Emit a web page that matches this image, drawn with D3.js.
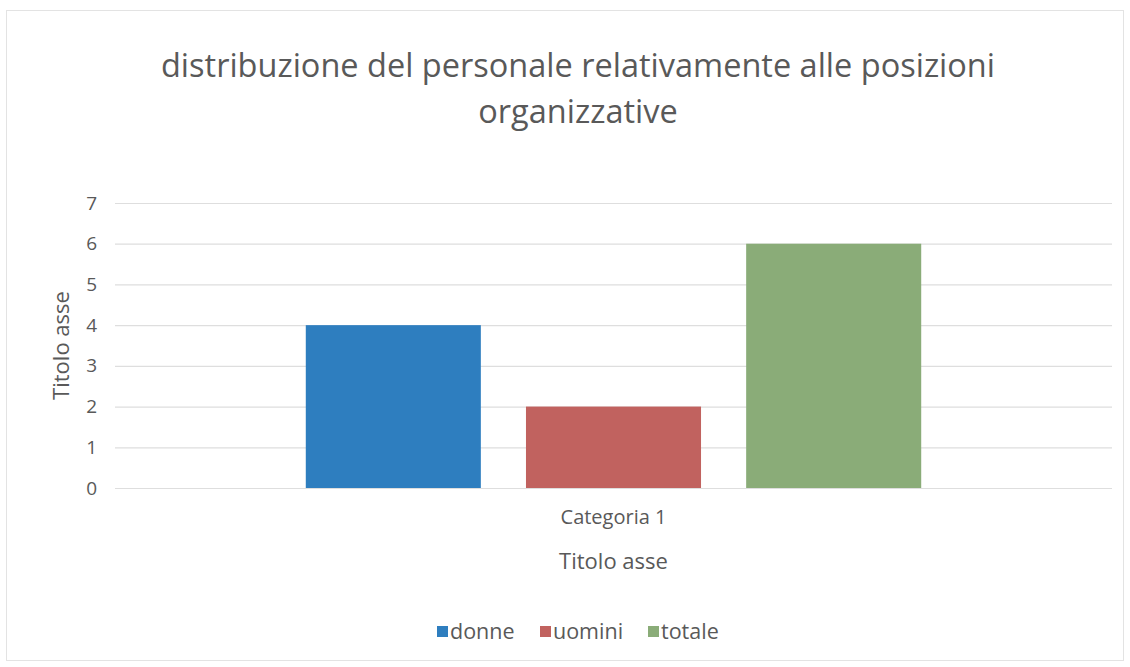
<!DOCTYPE html>
<html>
<head>
<meta charset="utf-8">
<script src="https://d3js.org/d3.v7.min.js"></script>
<style>
  body { margin: 0; background: #fff; }
  text { font-family: "Open Sans", "Noto Sans", sans-serif; fill: #595959; }
</style>
</head>
<body>
<div id="chart"></div>
<script>
// chart values
var categories = ["Categoria 1"];
var seriesNames = ["donne", "uomini", "totale"];
var seriesValues = [4, 2, 6];
var seriesColors = ["#2e7ebf", "#c1625f", "#8aac78"];
var yTicks = [0, 1, 2, 3, 4, 5, 6, 7];
var titleLines = ["distribuzione del personale relativamente alle posizioni", "organizzative"];
var axisTitle = "Titolo asse";

var W = 1130, H = 667;
var plot = {left: 115, right: 1112, top: 203, bottom: 488};

var svg = d3.select("#chart")
            .append("svg")
            .attr("width", W)
            .attr("height", H);

// outer chart frame, like the excel chart area
svg.append("rect")
   .attr("x", 6.5)
   .attr("y", 10.5)
   .attr("width", 1117)
   .attr("height", 650)
   .attr("fill", "#fff")
   .attr("stroke", "#e3e3e3");

var xOuter = d3.scaleBand()
               .domain(categories)
               .range([plot.left, plot.right])
               .paddingInner(0)
               .paddingOuter(0.31);

var xInner = d3.scaleBand()
               .domain(seriesNames)
               .range([0, xOuter.bandwidth()])
               .paddingInner(0.205)
               .paddingOuter(0);

var yScale = d3.scaleLinear()
               .domain([0, 7])
               .range([plot.bottom, plot.top]);

// gridlines
var yAxis = d3.axisLeft(yScale)
              .tickValues(yTicks)
              .tickSize(-(plot.right - plot.left))
              .tickPadding(18)
              .tickFormat(d3.format("d"));

var gy = svg.append("g")
            .attr("class", "y axis")
            .attr("transform", "translate(" + plot.left + ",0)")
            .call(yAxis);
gy.select(".domain").remove();
gy.selectAll(".tick line").attr("stroke", "#dedede").attr("stroke-width", 1.2);
gy.selectAll(".tick text")
  .style("font-size", "19px")
  .style("font-family", "'Open Sans', sans-serif")
  .attr("fill", "#595959");

// bars
svg.append("g")
   .selectAll("rect")
   .data(seriesNames.map(function(n, i) { return {name: n, value: seriesValues[i], color: seriesColors[i]}; }))
   .enter().append("rect")
   .attr("x", function(d) { return xOuter(categories[0]) + xInner(d.name); })
   .attr("y", function(d) { return yScale(d.value); })
   .attr("width", xInner.bandwidth())
   .attr("height", function(d) { return yScale(0) - yScale(d.value); })
   .attr("fill", function(d) { return d.color; });

// category label
var xAxis = d3.axisBottom(xOuter).tickSize(0).tickPadding(22);
var gx = svg.append("g")
            .attr("transform", "translate(0," + plot.bottom + ")")
            .call(xAxis);
gx.select(".domain").remove();
gx.selectAll(".tick text")
  .style("font-size", "20px")
  .style("font-family", "'Open Sans', sans-serif")
  .attr("fill", "#595959");

// title
svg.append("g")
   .selectAll("text")
   .data(titleLines)
   .enter().append("text")
   .attr("x", 578)
   .attr("y", function(d, i) { return 77 + i * 46; })
   .attr("text-anchor", "middle")
   .style("font-size", "32.5px")
   .text(function(d) { return d; });

// axis titles
svg.append("text")
   .attr("x", (plot.left + plot.right) / 2)
   .attr("y", 569)
   .attr("text-anchor", "middle")
   .style("font-size", "22px")
   .text(axisTitle);

svg.append("text")
   .attr("transform", "translate(69," + (plot.top + plot.bottom) / 2 + ") rotate(-90)")
   .attr("text-anchor", "middle")
   .style("font-size", "22px")
   .text(axisTitle);

// legend
var legendX = [437, 540, 648];
var legend = svg.append("g")
                .selectAll("g")
                .data(seriesNames)
                .enter().append("g")
                .attr("transform", function(d, i) { return "translate(" + legendX[i] + ",632)"; });

legend.append("rect")
      .attr("x", 0)
      .attr("y", -6)
      .attr("width", 11)
      .attr("height", 11)
      .attr("fill", function(d, i) { return seriesColors[i]; });

legend.append("text")
      .attr("x", 13)
      .attr("y", 7)
      .style("font-size", "21.5px")
      .text(function(d) { return d; });
</script>
</body>
</html>
